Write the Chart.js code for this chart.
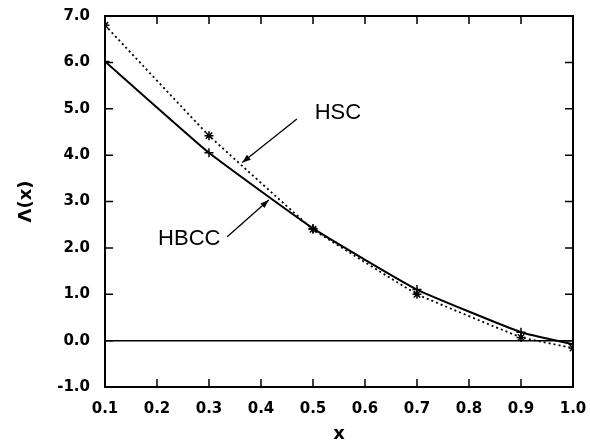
<!DOCTYPE html>
<html>
<head>
<meta charset="utf-8">
<script src="https://cdn.jsdelivr.net/npm/chart.js@4.4.1/dist/chart.umd.min.js"></script>
<style>
  html, body { margin: 0; padding: 0; background: #fff; }
  #wrap { width: 590px; height: 447px; }
</style>
</head>
<body>
<div id="wrap"><canvas id="c" width="590" height="447"></canvas></div>
<script>
// ---- data ----
const xValues   = [0.1, 0.3, 0.5, 0.7, 0.9, 1.0];
const hbccVals  = [6.02, 4.05, 2.42, 1.10, 0.18, -0.08];
const hscVals   = [6.80, 4.42, 2.40, 1.00, 0.07, -0.16];
const xTicks    = [0.1, 0.2, 0.3, 0.4, 0.5, 0.6, 0.7, 0.8, 0.9, 1.0];
const yTicks    = [-1, 0, 1, 2, 3, 4, 5, 6, 7];
// annotation labels and arrows, in data units
const labelNames  = ['HSC', 'HBCC'];
const labelX      = [0.548, 0.262];
const labelY      = [4.90, 2.20];
const arrowFromX  = [0.469, 0.335];
const arrowFromY  = [4.78, 2.24];
const arrowToX    = [0.364, 0.415];
const arrowToY    = [3.84, 3.03];

const FONT = "'DejaVu Sans', sans-serif";
const AFONT = "'Liberation Sans', Arial, sans-serif";

const frame = {
  id: 'frame',
  afterDraw(chart) {
    const {ctx, chartArea: a, scales: {x, y}} = chart;
    ctx.save();
    ctx.strokeStyle = '#000';
    ctx.lineWidth = 2;
    ctx.strokeRect(a.left, a.top, a.right - a.left, a.bottom - a.top);
    ctx.lineWidth = 1.5;
    const tl = 8;
    ctx.beginPath();
    xTicks.forEach(v => {
      const px = x.getPixelForValue(v);
      ctx.moveTo(px, a.bottom); ctx.lineTo(px, a.bottom - tl);
      ctx.moveTo(px, a.top); ctx.lineTo(px, a.top + tl);
    });
    yTicks.forEach(v => {
      const py = y.getPixelForValue(v);
      ctx.moveTo(a.left, py); ctx.lineTo(a.left + tl, py);
      ctx.moveTo(a.right, py); ctx.lineTo(a.right - tl, py);
    });
    ctx.stroke();
    // annotations
    ctx.fillStyle = '#000';
    ctx.font = '22px ' + AFONT;
    ctx.textAlign = 'center';
    ctx.textBaseline = 'middle';
    labelNames.forEach((t, i) => {
      ctx.fillText(t, x.getPixelForValue(labelX[i]), y.getPixelForValue(labelY[i]));
      const x0 = x.getPixelForValue(arrowFromX[i]), y0 = y.getPixelForValue(arrowFromY[i]);
      const x1 = x.getPixelForValue(arrowToX[i]), y1 = y.getPixelForValue(arrowToY[i]);
      ctx.lineWidth = 1.3;
      ctx.beginPath(); ctx.moveTo(x0, y0); ctx.lineTo(x1, y1); ctx.stroke();
      const ang = Math.atan2(y1 - y0, x1 - x0), L = 9, w = 0.35;
      ctx.beginPath();
      ctx.moveTo(x1, y1);
      ctx.lineTo(x1 - L * Math.cos(ang - w), y1 - L * Math.sin(ang - w));
      ctx.lineTo(x1 - L * Math.cos(ang + w), y1 - L * Math.sin(ang + w));
      ctx.closePath(); ctx.fill();
    });
    ctx.restore();
  }
};

new Chart(document.getElementById('c'), {
  type: 'line',
  data: {
    datasets: [
      {
        label: 'HBCC',
        data: xValues.map((v, i) => ({x: v, y: hbccVals[i]})),
        borderColor: '#000', backgroundColor: '#000',
        borderWidth: 2, pointStyle: 'cross', pointRadius: 4.5, pointBorderWidth: 1.5,
        tension: 0.12
      },
      {
        label: 'HSC',
        data: xValues.map((v, i) => ({x: v, y: hscVals[i]})),
        borderColor: '#000', backgroundColor: '#000',
        borderWidth: 1.8, borderDash: [2, 3], pointStyle: 'star', pointRadius: 4.5, pointBorderWidth: 1.5,
        tension: 0.05
      }
    ]
  },
  options: {
    responsive: false, animation: false,
    layout: { padding: { left: 16, right: 17, top: 16, bottom: 0 } },
    plugins: { legend: { display: false }, tooltip: { enabled: false } },
    scales: {
      x: {
        type: 'linear', min: 0.1, max: 1.0,
        afterBuildTicks: s => { s.ticks = xTicks.map(v => ({value: v})); },
        afterFit: s => { s.height = 60; s.paddingLeft = 0; s.paddingRight = 0; },
        grid: { display: false, drawTicks: false },
        border: { display: false },
        ticks: { color: '#000', padding: 13, font: { family: FONT, size: 15, weight: 'bold' },
                 callback: v => Number(v).toFixed(1), maxRotation: 0, autoSkip: false },
        title: { display: true, text: 'x', color: '#000', padding: { top: 0, bottom: 2 },
                 font: { family: FONT, size: 18, weight: 'bold' } }
      },
      y: {
        type: 'linear', min: -1, max: 7,
        afterBuildTicks: s => { s.ticks = yTicks.map(v => ({value: v})); },
        afterFit: s => { s.width = 89; s.paddingTop = 0; s.paddingBottom = 0; },
        grid: { drawTicks: false, lineWidth: 1.5,
                color: c => (c.tick && c.tick.value === 0) ? '#000' : 'rgba(0,0,0,0)' },
        border: { display: false },
        ticks: { color: '#000', padding: 15, font: { family: FONT, size: 15, weight: 'bold' },
                 callback: v => Number(v).toFixed(1) },
        title: { display: true, text: 'Λ(x)', color: '#000', padding: { top: 0, bottom: 0 },
                 font: { family: FONT, size: 18, weight: 'bold' } }
      }
    }
  },
  plugins: [frame]
});
</script>
</body>
</html>
